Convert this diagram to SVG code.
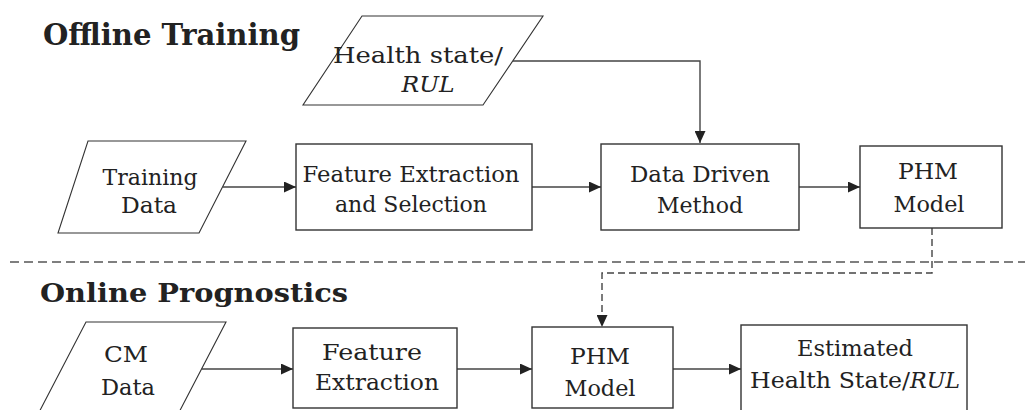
<svg xmlns="http://www.w3.org/2000/svg" width="1025" height="410" viewBox="0 0 1025 410">
<defs>
<marker id="arr" markerWidth="12" markerHeight="11" refX="12" refY="5.5" orient="auto" markerUnits="userSpaceOnUse">
<path d="M0,0 L12,5.5 L0,11 Z" fill="#222"/>
</marker>
<style>
.box{fill:#fff;stroke:#333;stroke-width:1.4}
.para{fill:#fff;stroke:#333;stroke-width:1.1}
.t{font-family:'DejaVu Serif','Liberation Serif',serif;font-size:23px;fill:#222}
.c{text-anchor:middle}
.i{font-style:italic}
.h{font-family:'DejaVu Serif','Liberation Serif',serif;font-size:29px;font-weight:bold;fill:#222}
.h2{font-size:26px}
.ln{fill:none;stroke:#444;stroke-width:1.4}
.dl{fill:none;stroke:#444;stroke-width:1.4;stroke-dasharray:7 4}
.sep{fill:none;stroke:#555;stroke-width:1.5;stroke-dasharray:9 5}
</style>
</defs>
<rect width="1025" height="410" fill="#fff"/>
<text class="h" x="43" y="45" textLength="257" lengthAdjust="spacingAndGlyphs">Offline Training</text>
<text class="h h2" x="40" y="302" textLength="308" lengthAdjust="spacingAndGlyphs">Online Prognostics</text>
<line class="sep" x1="10" y1="262" x2="1025" y2="262"/>
<g id="connectors">
<polyline class="ln" points="513,61 700,61 700,143" marker-end="url(#arr)"/>
<line class="ln" x1="223" y1="187" x2="296" y2="187" marker-end="url(#arr)"/>
<line class="ln" x1="532" y1="187" x2="601" y2="187" marker-end="url(#arr)"/>
<line class="ln" x1="799" y1="187" x2="860" y2="187" marker-end="url(#arr)"/>
<polyline class="dl" points="932,228 932,273 602,273 602,327" marker-end="url(#arr)"/>
<line class="ln" x1="202" y1="369" x2="293" y2="369" marker-end="url(#arr)"/>
<line class="ln" x1="457" y1="369" x2="532" y2="369" marker-end="url(#arr)"/>
<line class="ln" x1="673" y1="369" x2="741" y2="369" marker-end="url(#arr)"/>
</g>
<g id="health-state">
<polygon class="para" points="362,16 543,16 483,105 303,105"/>
<text class="t c" x="418" y="63" textLength="170" lengthAdjust="spacingAndGlyphs">Health state/</text>
<text class="t c i" x="428" y="92" textLength="53" lengthAdjust="spacingAndGlyphs">RUL</text>
</g>
<g id="training-data">
<polygon class="para" points="88,141 246,141 199,233 58,233"/>
<text class="t c" x="150" y="185" textLength="95" lengthAdjust="spacingAndGlyphs">Training</text>
<text class="t c" x="149" y="213" textLength="56" lengthAdjust="spacingAndGlyphs">Data</text>
</g>
<g id="feature-extraction-selection">
<rect class="box" x="296" y="144" width="236" height="86"/>
<text class="t c" x="411" y="182" textLength="217" lengthAdjust="spacingAndGlyphs">Feature Extraction</text>
<text class="t c" x="411" y="212" textLength="152" lengthAdjust="spacingAndGlyphs">and Selection</text>
</g>
<g id="data-driven-method">
<rect class="box" x="601" y="144" width="198" height="86"/>
<text class="t c" x="700" y="182" textLength="140" lengthAdjust="spacingAndGlyphs">Data Driven</text>
<text class="t c" x="700" y="213" textLength="86" lengthAdjust="spacingAndGlyphs">Method</text>
</g>
<g id="phm-model-offline">
<rect class="box" x="860" y="146" width="142" height="82"/>
<text class="t c" x="928" y="179" textLength="60" lengthAdjust="spacingAndGlyphs">PHM</text>
<text class="t c" x="929" y="212" textLength="71" lengthAdjust="spacingAndGlyphs">Model</text>
</g>
<g id="cm-data">
<polygon class="para" points="86,322 226,322 175,420 35,420"/>
<text class="t c" x="126" y="362" textLength="44" lengthAdjust="spacingAndGlyphs">CM</text>
<text class="t c" x="128" y="395" textLength="54" lengthAdjust="spacingAndGlyphs">Data</text>
</g>
<g id="feature-extraction">
<rect class="box" x="293" y="328" width="164" height="80"/>
<text class="t c" x="372" y="360" textLength="100" lengthAdjust="spacingAndGlyphs">Feature</text>
<text class="t c" x="377" y="390" textLength="124" lengthAdjust="spacingAndGlyphs">Extraction</text>
</g>
<g id="phm-model-online">
<rect class="box" x="532" y="327" width="141" height="81"/>
<text class="t c" x="600" y="364" textLength="60" lengthAdjust="spacingAndGlyphs">PHM</text>
<text class="t c" x="600" y="396" textLength="71" lengthAdjust="spacingAndGlyphs">Model</text>
</g>
<g id="estimated-health-state">
<rect class="box" x="741" y="325" width="226" height="100"/>
<text class="t c" x="855" y="356" textLength="116" lengthAdjust="spacingAndGlyphs">Estimated</text>
<text class="t" x="750" y="388" textLength="160" lengthAdjust="spacingAndGlyphs">Health State/</text>
<text class="t i" x="910" y="388" textLength="50" lengthAdjust="spacingAndGlyphs">RUL</text>
</g>
</svg>
